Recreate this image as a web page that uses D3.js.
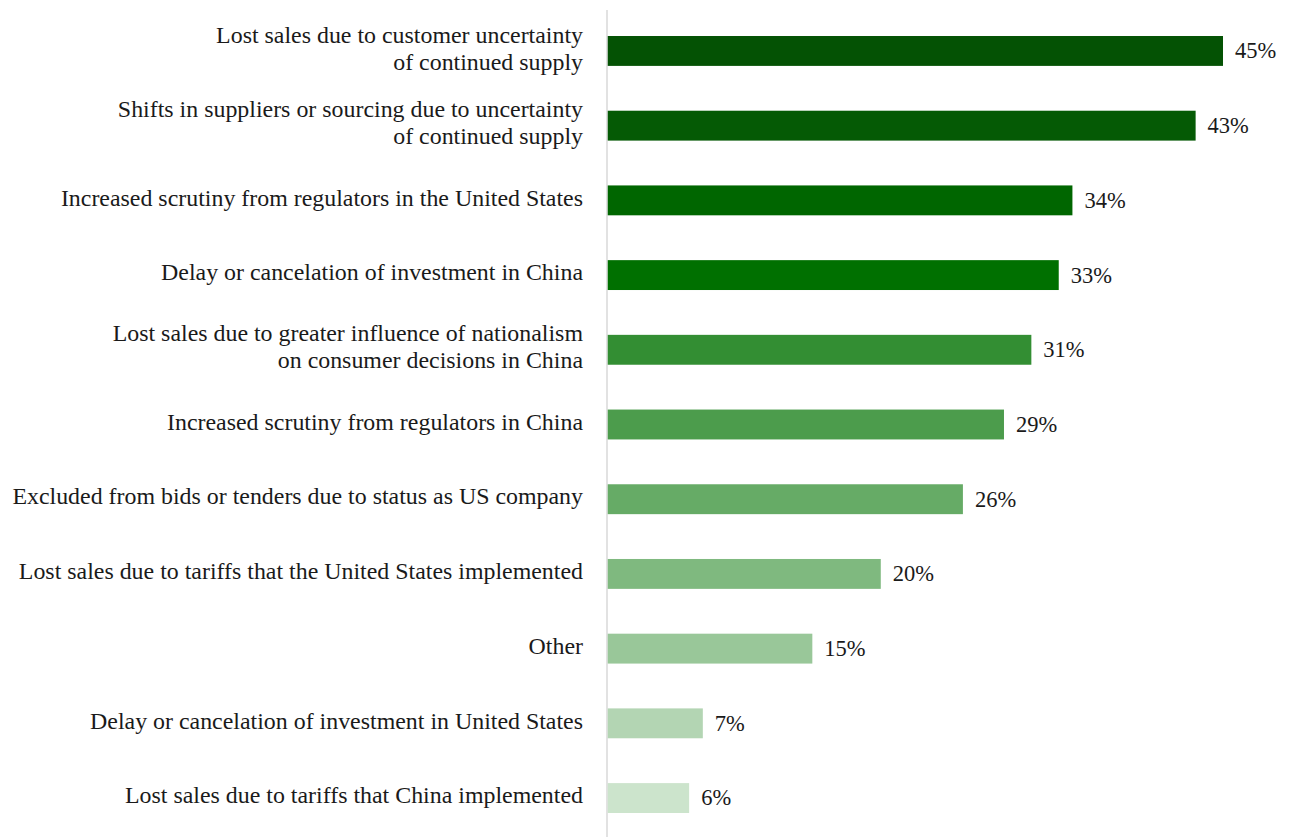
<!DOCTYPE html>
<html>
<head>
<meta charset="utf-8">
<script src="https://cdn.jsdelivr.net/npm/d3@7"></script>
<style>
  html, body { margin: 0; padding: 0; background: #fff; }
  svg text { font-family: "Liberation Serif", "DejaVu Serif", serif; fill: #1a1a1a; }
</style>
</head>
<body>
<svg id="chart" width="1289" height="837"></svg>
<script>
// Impacts reported by companies (share of respondents)
const categories = [
  ["Lost sales due to customer uncertainty", "of continued supply"],
  ["Shifts in suppliers or sourcing due to uncertainty", "of continued supply"],
  ["Increased scrutiny from regulators in the United States"],
  ["Delay or cancelation of investment in China"],
  ["Lost sales due to greater influence of nationalism", "on consumer decisions in China"],
  ["Increased scrutiny from regulators in China"],
  ["Excluded from bids or tenders due to status as US company"],
  ["Lost sales due to tariffs that the United States implemented"],
  ["Other"],
  ["Delay or cancelation of investment in United States"],
  ["Lost sales due to tariffs that China implemented"]
];
const values = [45, 43, 34, 33, 31, 29, 26, 20, 15, 7, 6];
const barColors = [
  "#045204", "#055a05", "#006600", "#007000", "#338e33", "#4c9c4c",
  "#66ab66", "#7fb97f", "#99c799", "#b3d5b3", "#cce4cc"
];

const svg = d3.select("#chart");
const x0 = 607;
const fontSize = 23.9;

const x = d3.scaleLinear().domain([0, 45]).range([x0, 1223]);
const y = d3.scaleBand()
  .domain(d3.range(values.length))
  .range([13.6, 835.4])
  .paddingInner(0.6)
  .paddingOuter(0.3);

// vertical baseline
svg.append("line")
  .attr("x1", x0).attr("x2", x0)
  .attr("y1", 10).attr("y2", 837)
  .attr("stroke", "#d9d9d9").attr("stroke-width", 1.5);

// bars
svg.selectAll("rect.bar")
  .data(values)
  .join("rect")
  .attr("class", "bar")
  .attr("x", x0 + 0.75)
  .attr("y", (d, i) => y(i))
  .attr("width", d => x(d) - x0 - 0.75)
  .attr("height", y.bandwidth())
  .attr("fill", (d, i) => barColors[i]);

// value labels
svg.selectAll("text.val")
  .data(values)
  .join("text")
  .attr("class", "val")
  .attr("x", d => x(d) + 12)
  .attr("y", (d, i) => y(i) + y.bandwidth() / 2)
  .attr("dy", "0.33em")
  .attr("font-size", 22.5)
  .text(d => d + "%");

// category labels (right-aligned, possibly two lines)
const lineH = 27;
const cat = svg.selectAll("text.cat")
  .data(categories)
  .join("text")
  .attr("class", "cat")
  .attr("text-anchor", "end")
  .attr("font-size", fontSize)
  .attr("y", (d, i) => y(i) + y.bandwidth() / 2 - 2);

cat.each(function(lines) {
  const t = d3.select(this);
  const offset = -(lines.length - 1) * lineH / 2;
  lines.forEach((ln, k) => {
    t.append("tspan")
      .attr("x", 583)
      .attr("dy", k === 0 ? (offset / fontSize + 0.3) + "em" : lineH + "px")
      .text(ln);
  });
});
</script>
</body>
</html>
